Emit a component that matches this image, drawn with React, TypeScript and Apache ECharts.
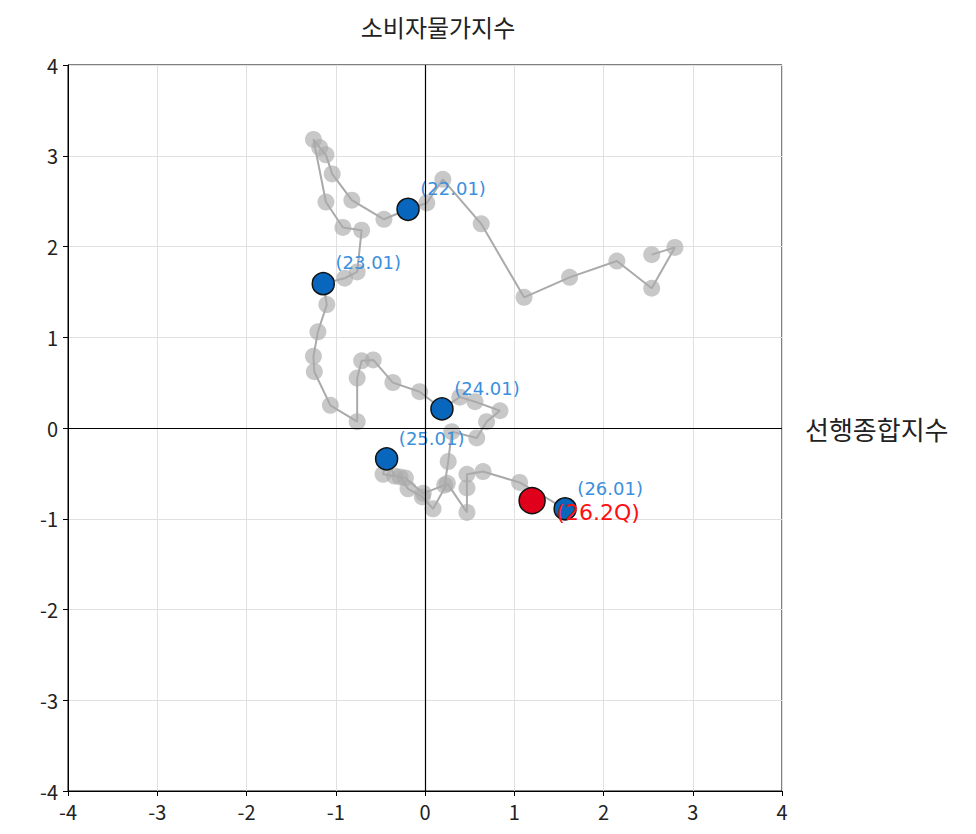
import React, { useEffect, useRef } from "react";
import * as echarts from "echarts";

// monthly path: [선행종합지수, 소비자물가지수]
const pathX = [
  2.54, 2.8, 2.54, 2.15, 1.62, 1.11, 0.63, 0.2, 0.02,
  -0.19, -0.46, -0.82, -1.04, -1.11, -1.18, -1.25, -1.11, -0.92, -0.71, -0.76, -0.9,
  -1.14, -1.1, -1.2, -1.25, -1.24, -1.06, -0.76, -0.76, -0.71, -0.58, -0.36, -0.06,
  0.19, 0.39, 0.56, 0.84, 0.69, 0.58, 0.3, 0.26, 0.22, -0.02, -0.22, -0.34,
  -0.43, -0.47, -0.28, -0.19, -0.03, 0.09, 0.25, 0.47, 0.47, 0.47, 0.65, 1.06,
  1.57,
];
const pathY = [
  1.91, 1.99, 1.54, 1.84, 1.66, 1.44, 2.25, 2.74, 2.48,
  2.41, 2.3, 2.51, 2.8, 3.01, 3.09, 3.18, 2.49, 2.21, 2.18, 1.72, 1.65,
  1.59, 1.36, 1.06, 0.79, 0.62, 0.25, 0.07, 0.55, 0.74, 0.75, 0.5, 0.4,
  0.21, 0.34, 0.29, 0.19, 0.07, -0.11, -0.04, -0.37, -0.63, -0.72, -0.55, -0.53,
  -0.34, -0.51, -0.54, -0.67, -0.76, -0.89, -0.61, -0.93, -0.66, -0.51, -0.48, -0.6,
  -0.89,
];

const janLabels = ["(22.01)", "(23.01)", "(24.01)", "(25.01)", "(26.01)"];
const janX = [-0.19, -1.14, 0.19, -0.43, 1.57];
const janY = [2.41, 1.59, 0.21, -0.34, -0.89];

const latestLabel = "(26.2Q)";
const latestX = [1.2];
const latestY = [-0.8];

const axisTicks = [-4, -3, -2, -1, 0, 1, 2, 3, 4];

const FONT = "'Noto Sans CJK KR', 'Noto Sans', sans-serif";
const LABEL_FONT = "'DejaVu Sans', sans-serif";

export default function App() {
  const ref = useRef<HTMLDivElement>(null);
  useEffect(() => {
    if (!ref.current) return;
    const chart = echarts.init(ref.current, undefined, { renderer: "svg" });
    const pathData = pathX.map((x, i) => [x, pathY[i]]);
    const janData = janX.map((x, i) => ({ value: [x, janY[i]], name: janLabels[i] }));
    const latestData = latestX.map((x, i) => ({ value: [x, latestY[i]], name: latestLabel }));
    const axisCommon = {
      type: "value" as const,
      min: axisTicks[0],
      max: axisTicks[axisTicks.length - 1],
      interval: 1,
      axisLine: { show: true, onZero: false, lineStyle: { color: "#000", width: 1 } },
      axisTick: { show: true, inside: false, length: 5, lineStyle: { color: "#000" } },
      axisLabel: { color: "#222", fontSize: 20, fontFamily: FONT, margin: 10 },
      splitLine: { show: true, lineStyle: { color: "#e0e0e0", width: 1 } },
    };
    chart.setOption({
      animation: false,
      backgroundColor: "#fff",
      grid: {
        left: 60,
        top: 57,
        width: 714,
        height: 726,
        show: true,
        borderColor: "#000",
        borderWidth: 1,
        backgroundColor: "transparent",
      },
      xAxis: { ...axisCommon, position: "bottom" },
      yAxis: { ...axisCommon, position: "left" },
      graphic: [
        {
          type: "text",
          x: 430,
          y: 18,
          style: {
            text: "소비자물가지수",
            fontSize: 24,
            fontFamily: FONT,
            fill: "#222",
            align: "center",
            verticalAlign: "middle",
          },
        },
        {
          type: "text",
          x: 797,
          y: 420,
          style: {
            text: "선행종합지수",
            fontSize: 26,
            fontFamily: FONT,
            fill: "#222",
            align: "left",
            verticalAlign: "middle",
          },
        },
      ],
      series: [
        {
          type: "line",
          data: pathData,
          symbol: "circle",
          symbolSize: 17,
          showSymbol: true,
          lineStyle: { color: "#aaaaaa", width: 2 },
          itemStyle: { color: "rgba(170,170,170,0.65)", borderWidth: 0 },
          z: 2,
          markLine: {
            silent: true,
            symbol: "none",
            label: { show: false },
            lineStyle: { color: "#000", width: 1.2, type: "solid" },
            data: [{ xAxis: 0 }, { yAxis: 0 }],
          },
        },
        {
          type: "scatter",
          data: janData,
          symbolSize: 22,
          itemStyle: { color: "#0866bd", borderColor: "#111", borderWidth: 1.5, opacity: 1 },
          label: {
            show: true,
            formatter: (p: any) => p.name,
            position: [24, -9],
            align: "left",
            verticalAlign: "middle",
            color: "#3b8fdc",
            fontSize: 18,
            fontFamily: LABEL_FONT,
          },
          z: 4,
        },
        {
          type: "scatter",
          data: latestData,
          symbolSize: 26,
          itemStyle: { color: "#e0001b", borderColor: "#111", borderWidth: 1.5, opacity: 1 },
          label: {
            show: true,
            formatter: (p: any) => p.name,
            position: [38, 26],
            align: "left",
            verticalAlign: "middle",
            color: "#ff1010",
            fontSize: 22,
            fontFamily: LABEL_FONT,
          },
          z: 5,
        },
      ],
    });
    return () => chart.dispose();
  }, []);
  return <div ref={ref} style={{ width: 960, height: 826 }} />;
}
